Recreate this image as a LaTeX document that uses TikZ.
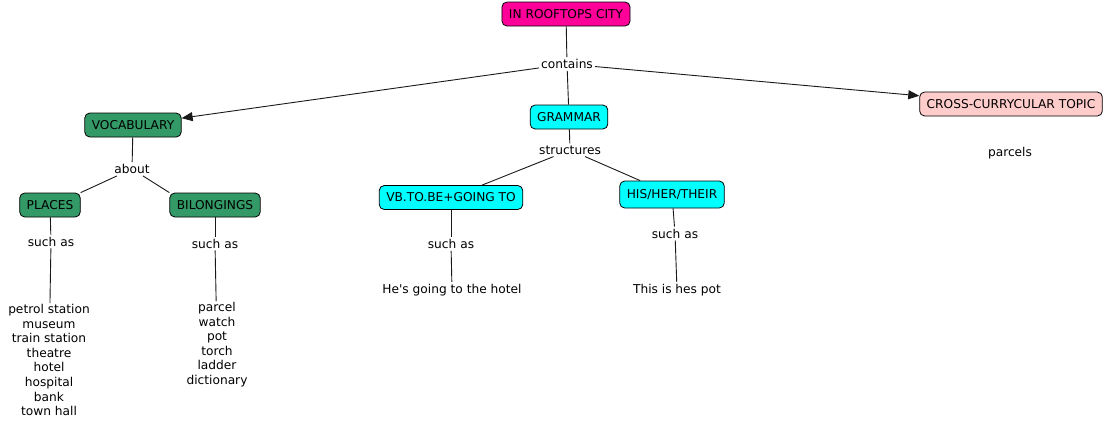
\documentclass[tikz,border=0pt]{standalone}
\usepackage{fontspec}
\setmainfont{DejaVu Sans}[Ligatures=TeXOff]
\usetikzlibrary{arrows.meta}
\definecolor{cmag}{RGB}{255,0,153}
\definecolor{cgreen}{RGB}{51,153,102}
\definecolor{ccyan}{RGB}{0,255,255}
\definecolor{cpink}{RGB}{255,204,204}
\begin{document}
\begin{tikzpicture}[x=1pt,y=-1pt,
  every node/.style={font=\fontsize{12.2}{14.6}\selectfont, text=black},
  concept/.style={draw=black, line width=0.8pt, rounded corners=5pt, minimum height=24pt, inner xsep=7pt, inner ysep=0pt},
  lbl/.style={inner sep=2pt},
  listtxt/.style={align=center, inner sep=1pt, anchor=north},
  conn/.style={draw=black!90, line width=0.9pt},
  arr/.style={conn, -{Triangle[length=11pt,width=9pt]}}]
\useasboundingbox (0,0) rectangle (1107,424);
\fill[white] (0,0) rectangle (1107,424);
% concepts
\node[concept, fill=cmag] (city) at (566,14) {IN ROOFTOPS CITY};
\node[concept, fill=cgreen] (vocab) at (133,125) {VOCABULARY};
\node[concept, fill=ccyan] (gram) at (569,117) {GRAMMAR};
\node[concept, fill=cpink] (cross) at (1011,104) {CROSS-CURRYCULAR TOPIC};
\node[concept, fill=cgreen] (places) at (50,205) {PLACES};
\node[concept, fill=cgreen] (bel) at (215,205) {BILONGINGS};
\node[concept, fill=ccyan] (vb) at (451,197.5) {VB.TO.BE+GOING TO};
\node[concept, fill=ccyan, minimum height=27pt] (his) at (672,194.5) {HIS/HER/THEIR};
% linking phrases
\node[lbl] (contains) at (567,64) {contains};
\node[lbl] (about) at (132,169) {about};
\node[lbl] (struct) at (570,150) {structures};
\node[lbl] (sa1) at (51,241.5) {such as};
\node[lbl] (sa2) at (215,243.5) {such as};
\node[lbl] (sa3) at (451,244) {such as};
\node[lbl] (sa4) at (675,233.5) {such as};
% leaf texts
\node[lbl] (parcels) at (1010,153) {parcels};
\node[listtxt] (plist) at (49,303) {petrol station\\museum\\train station\\theatre\\hotel\\hospital\\bank\\town hall};
\node[listtxt] (blist) at (217,301) {parcel\\watch\\pot\\torch\\ladder\\dictionary};
\node[lbl] (hotel) at (452,290) {He's going to the hotel};
\node[lbl] (pot) at (677,290) {This is hes pot};
% connectors
\draw[conn] (city) -- (contains);
\draw[conn] (contains) -- (gram);
\draw[arr] (contains) -- (vocab);
\draw[arr] (contains) -- (cross);
\draw[conn] (vocab) -- (about);
\draw[conn] (about) -- (places.north east);
\draw[conn] (about) -- (bel.north west);
\draw[conn] (gram) -- (struct);
\draw[conn] (struct) -- (vb);
\draw[conn] (struct) -- (his);
\draw[conn] (places) -- (sa1);
\draw[conn] (sa1) -- (plist);
\draw[conn] (bel) -- (sa2);
\draw[conn] (sa2) -- (blist);
\draw[conn] (vb) -- (sa3);
\draw[conn] (sa3) -- (hotel);
\draw[conn] (his) -- (sa4);
\draw[conn] (sa4) -- (pot);
\end{tikzpicture}
\end{document}
